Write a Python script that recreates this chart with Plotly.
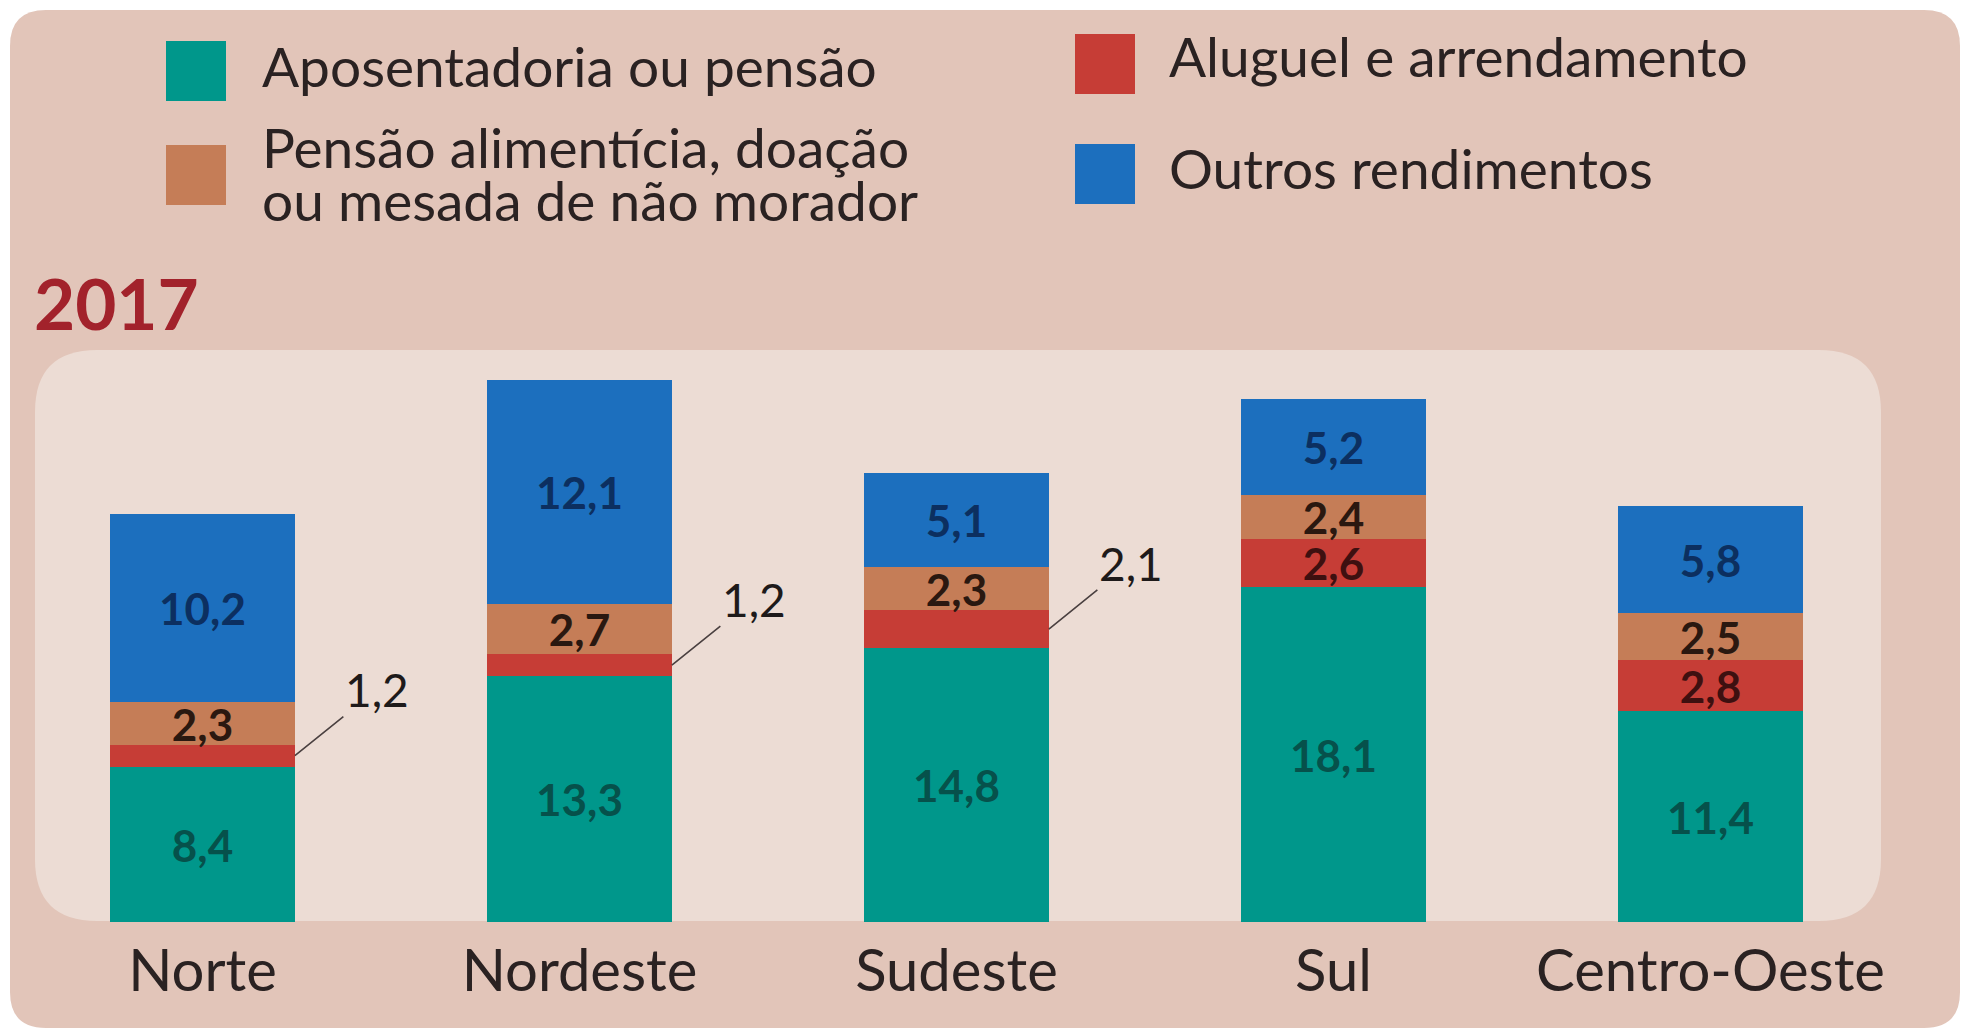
import plotly.graph_objects as go

regioes = ["Norte", "Nordeste", "Sudeste", "Sul", "Centro-Oeste"]
series_nomes = ["Aposentadoria ou pensão", "Aluguel e arrendamento",
                "Pensão alimentícia, doação<br>ou mesada de não morador", "Outros rendimentos"]
aposentadoria = [8.4, 13.3, 14.8, 18.1, 11.4]
aluguel = [1.2, 1.2, 2.1, 2.6, 2.8]
pensao_alim = [2.3, 2.7, 2.3, 2.4, 2.5]
outros = [10.2, 12.1, 5.1, 5.2, 5.8]
valores = [aposentadoria, aluguel, pensao_alim, outros]

cores = ["#00978b", "#c63d36", "#c57d57", "#1c6fbe"]
cores_texto = ["#06514b", "#3e1010", "#2a1810", "#0c2f60"]

FONT = "Lato"
BAR_W = 0.49
MIN_INSIDE = 2.2

fmt = lambda v: f"{v:.1f}".replace(".", ",")

fig = go.Figure()
for nome, vals, cor, ct in zip(series_nomes, valores, cores, cores_texto):
    textos = [fmt(v) if v >= MIN_INSIDE else "" for v in vals]
    fig.add_trace(go.Bar(
        x=regioes, y=vals, name=nome, marker=dict(color=cor, line=dict(width=0)),
        width=BAR_W, text=textos, textposition="inside", insidetextanchor="middle",
        constraintext="none", cliponaxis=False,
        textangle=0, textfont=dict(family=FONT, size=44, color=ct, weight="bold"),
        showlegend=False, hoverinfo="skip",
    ))

W, H = 1961, 1029
ML, MR, MT, MB = 14, 62, 349, 107
pw, ph = W - ML - MR, H - MT - MB


def px2paper(x, y):
    return (x - ML) / pw, 1 - (y - MT) / ph


annotations = []
# leader-line labels for thin segments
for i in range(len(regioes)):
    cum = 0
    for s, vals in enumerate(valores):
        v = vals[i]
        if v < MIN_INSIDE:
            annotations.append(dict(
                x=i + BAR_W / 2, y=cum + v / 2, xref="x", yref="y",
                text=fmt(v), showarrow=True, arrowhead=0, arrowwidth=1.6,
                arrowcolor="#4a4040", ax=82, ay=-66, standoff=0,
                font=dict(family=FONT, size=46, color="#1e1a1a"),
            ))
        cum += v

# title "2017"
tx, ty = px2paper(32, 302)
annotations.append(dict(x=tx, y=ty, xref="paper", yref="paper", text="<b>2017</b>",
                        showarrow=False, xanchor="left", yanchor="middle",
                        font=dict(family=FONT, size=71, color="#a2222b")))

shapes = []


def rrect(x0, y0, x1, y1, r, color):
    def p(x, y):
        a, b = px2paper(x, y)
        return f"{a:.5f},{b:.5f}"
    path = (f"M {p(x0 + r, y0)} L {p(x1 - r, y0)} Q {p(x1, y0)} {p(x1, y0 + r)} "
            f"L {p(x1, y1 - r)} Q {p(x1, y1)} {p(x1 - r, y1)} "
            f"L {p(x0 + r, y1)} Q {p(x0, y1)} {p(x0, y1 - r)} "
            f"L {p(x0, y0 + r)} Q {p(x0, y0)} {p(x0 + r, y0)} Z")
    return dict(type="path", path=path, xref="paper", yref="paper",
                fillcolor=color, line=dict(width=0), layer="below")


shapes.append(rrect(10, 10, 1960, 1028, 36, "#e2c5b9"))
shapes.append(rrect(35, 350, 1881, 921, 62, "#ecdcd4"))

# manual legend: swatch (x, y), series index, text lines with (x, y)
leg = [
    (166, 41, 0, [(260, 66, "Aposentadoria ou pensão")]),
    (166, 145, 2, [(260, 147, "Pensão alimentícia, doação"),
                   (260, 200, "ou mesada de não morador")]),
    (1075, 34, 1, [(1167, 56, series_nomes[1])]),
    (1075, 144, 3, [(1167, 168, series_nomes[3])]),
]
for sx, sy, si, lines in leg:
    a0, b0 = px2paper(sx, sy)
    a1, b1 = px2paper(sx + 60, sy + 60)
    shapes.append(dict(type="rect", xref="paper", yref="paper", x0=a0, x1=a1, y0=b1, y1=b0,
                       fillcolor=cores[si], line=dict(width=0)))
    for txx, tyy, lab in lines:
        ax_, ay_ = px2paper(txx, tyy)
        annotations.append(dict(x=ax_, y=ay_, xref="paper", yref="paper", text=lab,
                                showarrow=False, xanchor="left", yanchor="middle", align="left",
                                font=dict(family=FONT, size=55, color="#2a2222")))

fig.update_layout(
    width=W, height=H, barmode="stack", bargap=0,
    margin=dict(l=ML, r=MR, t=MT, b=MB, pad=0, autoexpand=False),
    paper_bgcolor="#ffffff", plot_bgcolor="rgba(0,0,0,0)",
    shapes=shapes, annotations=annotations,
    font=dict(family=FONT),
)
fig.update_xaxes(type="category", range=[-0.5, 4.5], showgrid=False, zeroline=False,
                 showline=False, ticks="", automargin=False, ticklabelstandoff=10,
                 tickfont=dict(family=FONT, size=58, color="#2a2222"))
fig.update_yaxes(range=[0, 31], visible=False, showgrid=False, zeroline=False,
                 automargin=False)

fig.write_html("out.html", config={"displayModeBar": False},
               post_script="document.body.style.margin='0';document.body.style.overflow='hidden';")
